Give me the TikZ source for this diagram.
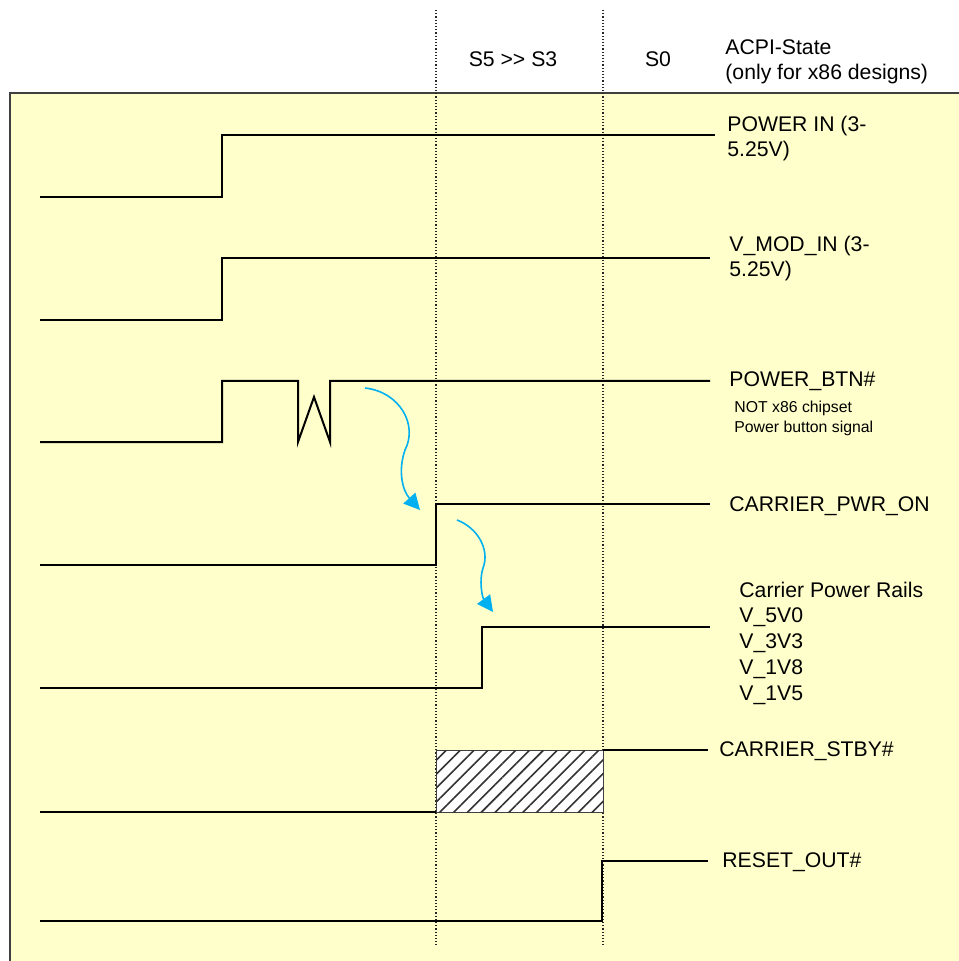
\documentclass[tikz,border=0pt]{standalone}
\usepackage{fontspec}
\setmainfont{Liberation Sans}
\usetikzlibrary{arrows.meta,patterns.meta}
\definecolor{sheet}{HTML}{FFFFCC}
\definecolor{flowblue}{HTML}{00B0F0}

\begin{document}
\begin{tikzpicture}[
    x=0.5pt, y=-0.5pt,
    sig/.style={line width=1pt, black, line join=miter},
    lbl/.style={anchor=base west, inner sep=0pt, font=\fontsize{10.6}{12.5}\selectfont, align=left},
    note/.style={anchor=base west, inner sep=0pt, font=\fontsize{7.9}{9.5}\selectfont, align=left},
    state/.style={anchor=base, inner sep=0pt, font=\fontsize{10.6}{12.5}\selectfont},
    divider/.style={densely dotted, line width=0.6pt, black!85},
    flow/.style={draw=flowblue, line width=0.8pt, -{Triangle[length=8pt, width=8pt]}},
    hatch/.style={draw=black!75, line width=0.5pt, fill=white,
        postaction={pattern={Lines[angle=45, distance=4.9pt, line width=0.8pt]}, pattern color=black!80}}
]
\useasboundingbox (0,0) rectangle (958,961);

% --- BACKGROUND ---
\draw[fill=sheet, draw=black!75, line width=0.7pt] (10,93) rectangle (975,980);

% --- HEADER ---
\node (s5s3) [state] at (513,67) {S5 >{}> S3};
\node (s0)   [state] at (658,67) {S0};
\node (acpi) [lbl]   at (725,80) {ACPI-State\\(only for x86 designs)};

% --- PHASE DIVIDERS ---
\coordinate (divA) at (436,10);
\coordinate (divB) at (603,10);
\draw[divider] (divA) -- (436,945);
\draw[divider] (divB) -- (603,945);

% --- STANDBY WINDOW ---
\path[hatch] (436,750) rectangle (603,812);

% --- WAVEFORMS ---
\draw[sig] (40,197) -- (222,197) -- (222,135) -- (715,135);
\draw[sig] (40,320) -- (222,320) -- (222,258) -- (710,258);
\draw[sig] (40,442) -- (222,442) -- (222,381) -- (298,381) -- (298,442)
    -- (314,397) -- (330,442) -- (330,381) -- (710,381);
\draw[sig] (40,565) -- (436,565) -- (436,504) -- (710,504);
\draw[sig] (40,688) -- (482,688) -- (482,627) -- (710,627);
\draw[sig] (40,812) -- (436,812);
\draw[sig] (603,750) -- (708,750);
\draw[sig] (40,921) -- (602,921) -- (602,861) -- (708,861);

% --- SIGNAL NAMES (base = last line) ---
\node (pwrin)  [lbl]  at (727,157) {POWER IN (3-\\5.25V)};
\node (vmod)   [lbl]  at (729,277) {V\_MOD\_IN (3-\\5.25V)};
\node (btn)    [lbl]  at (729,387) {POWER\_BTN\#};
\node (btnnote)[note] at (734,432) {NOT x86 chipset\\Power button signal};
\node (pwron)  [lbl]  at (729,511) {CARRIER\_PWR\_ON};
\node (rails)  [lbl, font=\fontsize{10.6}{12.85}\selectfont] at (739,700)
    {Carrier Power Rails\\V\_5V0\\V\_3V3\\V\_1V8\\V\_1V5};
\node (stby)   [lbl]  at (719,756) {CARRIER\_STBY\#};
\node (rst)    [lbl]  at (722,867) {RESET\_OUT\#};

% --- SEQUENCE ARROWS ---
\coordinate (pressed) at (365,388);
\coordinate (pwrup)   at (420,510);
\coordinate (onset)   at (457,520);
\coordinate (railsup) at (493,612);
\draw[flow] (pressed) .. controls (400,392) and (418,425) .. (405,450)
    .. controls (398,470) and (402,490) .. (pwrup);
\draw[flow] (onset) .. controls (478,528) and (490,550) .. (483,568)
    .. controls (479,580) and (482,597) .. (railsup);

\end{tikzpicture}
\end{document}
